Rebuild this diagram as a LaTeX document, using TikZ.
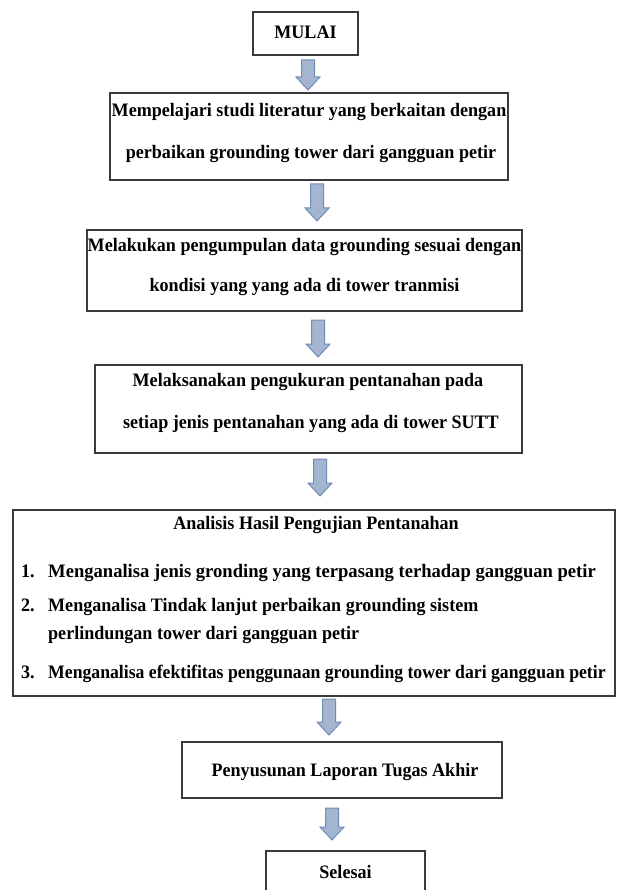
\documentclass[tikz,border=0pt]{standalone}
\usepackage{fontspec}
\usepackage{graphicx}
\setmainfont[FakeStretch=0.95]{Liberation Serif}
\definecolor{boxline}{HTML}{3A3A3A}
\definecolor{arrfill}{HTML}{A3B5CF}
\definecolor{arrline}{HTML}{6F8DB6}
\tikzset{
  flowbox/.style={draw=boxline, line width=1.2pt, inner sep=0pt, fill=white},
  txt/.style={font=\fontsize{19}{22}\selectfont\bfseries, inner sep=0pt, anchor=mid},
  ltxt/.style={txt, anchor=mid west},
  blockarrow/.pic={
    \draw[fill=arrfill, draw=arrline, line width=1pt]
      (-6.5,0) -- (6.5,0) -- (6.5,\arrlen-13) -- (12,\arrlen-13) -- (0,\arrlen) -- (-12,\arrlen-13) -- (-6.5,\arrlen-13) -- cycle;
  }
}
\newcommand{\arrlen}{36}
\begin{document}
\begin{tikzpicture}[x=1pt,y=-1pt]
\useasboundingbox (0,0) rectangle (616,890);
\fill[white] (0,0) rectangle (616,890);

% boxes
\node[flowbox, minimum width=105pt, minimum height=43pt] (b1) at (305.5,33.5) {};
\node[flowbox, minimum width=398pt, minimum height=87pt] (b2) at (309,136.5) {};
\node[flowbox, minimum width=435pt, minimum height=81pt] (b3) at (304.5,270.5) {};
\node[flowbox, minimum width=427pt, minimum height=88pt] (b4) at (308.5,409) {};
\node[flowbox, minimum width=602pt, minimum height=186pt] (b5) at (314,603) {};
\node[flowbox, minimum width=320pt, minimum height=56pt] (b6) at (342,770) {};
\node[flowbox, minimum width=159pt, minimum height=48pt] (b7) at (345.5,875) {};

% texts
\node[txt] (t1) at (305.5,36) {MULAI};
\node[txt] (t2a) at (309,114) {Mempelajari studi literatur yang berkaitan dengan};
\node[txt] (t2b) at (311,156) {perbaikan grounding tower dari gangguan petir};
\node[txt] (t3a) at (304.5,249) {Melakukan pengumpulan data grounding sesuai dengan};
\node[txt] (t3b) at (304.5,289) {kondisi yang yang ada di tower tranmisi};
\node[txt] (t4a) at (308,384) {Melaksanakan pengukuran pentanahan pada};
\node[txt] (t4b) at (311,426) {setiap jenis pentanahan yang ada di tower SUTT};
\node[txt] (t5) at (316,527) {Analisis Hasil Pengujian Pentanahan};
\node[ltxt] (n1) at (21,575) {1.};
\node[ltxt] (i1) at (48,575) {\scalebox{1.03}[1]{Menganalisa jenis gronding yang terpasang terhadap gangguan petir}};
\node[ltxt] (n2) at (21,609) {2.};
\node[ltxt] (i2) at (48,609) {Menganalisa Tindak lanjut perbaikan grounding sistem};
\node[ltxt] (i2b) at (48,637) {perlindungan tower dari gangguan petir};
\node[ltxt] (n3) at (21,676) {3.};
\node[ltxt] (i3) at (48,676) {\scalebox{0.98}[1]{Menganalisa efektifitas penggunaan grounding tower dari gangguan petir}};
\node[txt] (t6) at (345,774) {Penyusunan Laporan Tugas Akhir};
\node[txt] (t7) at (345.5,876) {Selesai};

% block arrows
\renewcommand{\arrlen}{30}
\pic at (308,60) {blockarrow};
\renewcommand{\arrlen}{37}
\pic at (317,184) {blockarrow};
\pic at (318,320) {blockarrow};
\pic at (320,459) {blockarrow};
\renewcommand{\arrlen}{36}
\pic at (329,699) {blockarrow};
\renewcommand{\arrlen}{32}
\pic at (332,808) {blockarrow};
\end{tikzpicture}
\end{document}
